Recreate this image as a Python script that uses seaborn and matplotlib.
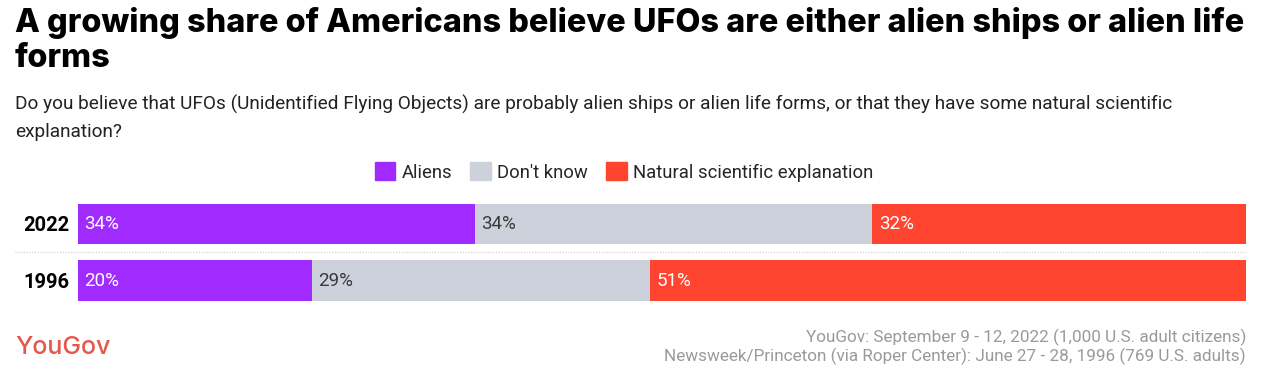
import matplotlib
matplotlib.use('Agg')
import matplotlib.pyplot as plt
from matplotlib.lines import Line2D
from matplotlib.patches import Rectangle
import pandas as pd
import seaborn as sns

# data
years = ['2022', '1996']
categories = ['Aliens', "Don't know", 'Natural scientific explanation']
aliens = [34, 20]
dont_know = [34, 29]
natural = [32, 51]
colors = ['#A12BFE', '#CDD1DB', '#FF4530']
label_colors = ['white', '#3a3a3a', 'white']

sns.set_theme(style='white')
plt.rcParams['font.family'] = ['Roboto', 'DejaVu Sans']

W, H = 1271, 378
fig = plt.figure(figsize=(W / 100, H / 100), dpi=100)

ax = fig.add_axes([78 / W, 1 - 308.75 / H, 1168 / W, 113 / H])

df = pd.DataFrame({'year': years, 'Aliens': aliens, "Don't know": dont_know,
                   'Natural scientific explanation': natural})
cum = df[categories].cumsum(axis=1)

# draw cumulative layers from the widest down so they stack
for cat, col in reversed(list(zip(categories, colors))):
    sns.barplot(x=cum[cat], y=df['year'], color=col, orient='h', width=0.71,
                saturation=1, ax=ax, edgecolor='none')

for i in range(len(years)):
    start = 0
    for cat, lc in zip(categories, label_colors):
        v = df.loc[i, cat]
        ax.text(start + 0.55, i, f'{v}%', ha='left', va='center', fontsize=13.5,
                color=lc)
        start += v

ax.set_xlim(0, 100)
ax.set_ylim(1.5, -0.5)
ax.set_xlabel('')
ax.set_ylabel('')
ax.set_xticks([])
ax.tick_params(axis='y', length=0, pad=6)
ax.set_yticks(range(len(years)))
ax.set_yticklabels(years, fontsize=14.5, fontweight='bold', color='black')
for s in ax.spines.values():
    s.set_visible(False)

# dotted separator between rows
fig.add_artist(Line2D([15 / W, 1246 / W], [1 - 252 / H, 1 - 252 / H], color='#cccccc',
                      lw=0.8, linestyle=(0, (1, 1.5))))

# title and subtitle
fig.text(15 / W, 1 - 7 / H, 'A growing share of Americans believe UFOs are either alien ships or alien life\nforms',
         ha='left', va='top', fontsize=23.3, fontweight='heavy', family=['Inter', 'DejaVu Sans'],
         linespacing=1.15, color='black')
fig.text(15 / W, 1 - 95 / H,
         'Do you believe that UFOs (Unidentified Flying Objects) are probably alien ships or alien life forms, or that they have some natural scientific\nexplanation?',
         ha='left', va='top', fontsize=13.7, color='#222222', linespacing=1.6)

# legend
handles = [Rectangle((0, 0), 1, 1, color=c) for c in colors]
fig.legend(handles, categories, loc='center', bbox_to_anchor=(624 / W, 1 - 172 / H), ncol=3,
           frameon=False, fontsize=13.3, handlelength=1.1, handleheight=1.1,
           handletextpad=0.35, columnspacing=1.0, borderaxespad=0)

# footer
fig.text(15 / W, 1 - 347 / H, 'YouGov', ha='left', va='center', fontsize=18,
         color='#E4574A', fontweight='medium', family=['Inter', 'DejaVu Sans'])
fig.text(1246 / W, 1 - 337 / H, 'YouGov: September 9 - 12, 2022 (1,000 U.S. adult citizens)',
         ha='right', va='center', fontsize=12.3, color='#9a9a9a')
fig.text(1246 / W, 1 - 356 / H, 'Newsweek/Princeton (via Roper Center): June 27 - 28, 1996 (769 U.S. adults)',
         ha='right', va='center', fontsize=12.3, color='#9a9a9a')

fig.savefig('out.png', dpi=100)
